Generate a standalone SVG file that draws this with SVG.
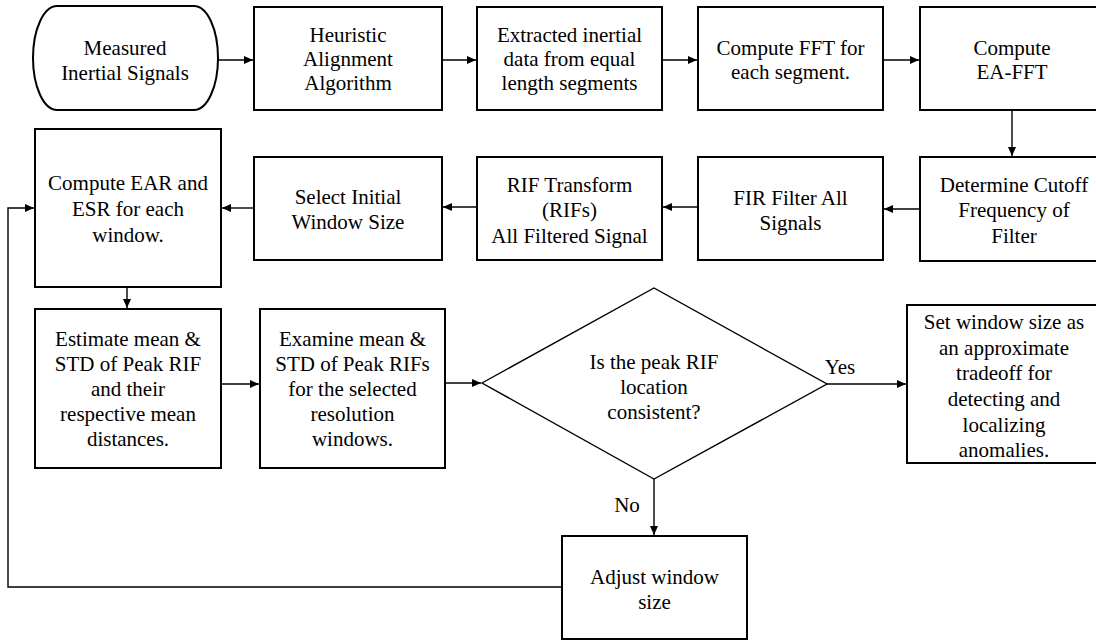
<svg xmlns="http://www.w3.org/2000/svg" width="1096" height="641" viewBox="0 0 1096 641">
<style>
.box{fill:#fff;stroke:#000;stroke-width:2}
.dia{fill:#fff;stroke:#000;stroke-width:1.4}
.conn{fill:none;stroke:#000;stroke-width:1.4}
.arr{marker-end:url(#ah)}
text{font-size:21px;fill:#000;text-anchor:middle}
</style>
<defs>
<marker id="ah" markerUnits="userSpaceOnUse" markerWidth="9" markerHeight="8" refX="9" refY="4" orient="auto">
<path d="M0,0 L9,4 L0,8 z" fill="#000"/>
</marker>
</defs>
<rect width="1096" height="641" fill="#fff"/>
<g id="connectors">
<line class="conn arr" x1="218" y1="60" x2="253" y2="60"/>
<line class="conn arr" x1="442" y1="60" x2="476" y2="60"/>
<line class="conn arr" x1="662" y1="60" x2="697" y2="60"/>
<line class="conn arr" x1="883" y1="60" x2="919" y2="60"/>
<line class="conn arr" x1="1012" y1="110" x2="1012" y2="156"/>
<line class="conn arr" x1="920" y1="209" x2="884" y2="209"/>
<line class="conn arr" x1="698" y1="207" x2="663" y2="207"/>
<line class="conn arr" x1="477" y1="207" x2="443" y2="207"/>
<line class="conn arr" x1="254" y1="208" x2="222" y2="208"/>
<line class="conn arr" x1="127" y1="287" x2="127" y2="308"/>
<line class="conn arr" x1="221" y1="384" x2="259" y2="384"/>
<line class="conn arr" x1="445" y1="383" x2="481" y2="383"/>
<line class="conn arr" x1="827" y1="384" x2="906" y2="384"/>
<line class="conn arr" x1="654" y1="479" x2="654" y2="535"/>
<polyline class="conn arr" points="562,587 8,587 8,208 34,208"/>
</g>
<g font-family="Liberation Serif, Times New Roman, serif">
<g id="n1"><rect class="box" x="33" y="6" width="185" height="104" rx="24" ry="52"/>
<text x="125" y="55">Measured</text><text x="125" y="80">Inertial Signals</text></g>
<g id="n2"><rect class="box" x="254" y="7" width="188" height="103"/>
<text x="348" y="42">Heuristic</text><text x="348" y="66">Alignment</text><text x="348" y="90">Algorithm</text></g>
<g id="n3"><rect class="box" x="477" y="7" width="185" height="103"/>
<text x="569.5" y="42">Extracted inertial</text><text x="569.5" y="66">data from equal</text><text x="569.5" y="90">length segments</text></g>
<g id="n4"><rect class="box" x="698" y="7" width="185" height="103"/>
<text x="790.5" y="55">Compute FFT for</text><text x="790.5" y="79">each segment.</text></g>
<g id="n5"><rect class="box" x="920" y="7" width="184" height="103"/>
<text x="1012" y="55">Compute</text><text x="1012" y="79">EA-FFT</text></g>
<g id="n6"><rect class="box" x="920" y="157" width="184" height="104"/>
<text x="1014" y="192">Determine Cutoff</text><text x="1014" y="217">Frequency  of</text><text x="1014" y="243">Filter</text></g>
<g id="n7"><rect class="box" x="698" y="157" width="185" height="103"/>
<text x="790.5" y="205">FIR Filter All</text><text x="790.5" y="230">Signals</text></g>
<g id="n8"><rect class="box" x="477" y="157" width="185" height="103"/>
<text x="569.5" y="192">RIF Transform</text><text x="569.5" y="217">(RIFs)</text><text x="569.5" y="243">All Filtered Signal</text></g>
<g id="n9"><rect class="box" x="254" y="157" width="188" height="103"/>
<text x="348" y="204">Select Initial</text><text x="348" y="229">Window  Size</text></g>
<g id="n10"><rect class="box" x="35" y="129" width="186" height="158"/>
<text x="128" y="190">Compute EAR and</text><text x="128" y="216">ESR for each</text><text x="128" y="242">window.</text></g>
<g id="n11"><rect class="box" x="35" y="309" width="186" height="159"/>
<text x="128" y="346">Estimate mean &amp;</text><text x="128" y="371">STD of Peak RIF</text><text x="128" y="396">and their</text><text x="128" y="421">respective  mean</text><text x="128" y="446">distances.</text></g>
<g id="n12"><rect class="box" x="260" y="309" width="185" height="159"/>
<text x="352.5" y="346">Examine mean &amp;</text><text x="352.5" y="371">STD of Peak RIFs</text><text x="352.5" y="396">for the selected</text><text x="352.5" y="421">resolution</text><text x="352.5" y="446">windows.</text></g>
<g id="n13"><polygon class="dia" points="482,383 654,288 827,384 654,479"/>
<text x="654" y="369">Is the peak RIF</text><text x="654" y="394">location</text><text x="654" y="419">consistent?</text></g>
<g id="n14"><rect class="box" x="907" y="305" width="194" height="158"/>
<text x="1004" y="329">Set window  size as</text><text x="1004" y="355">an approximate</text><text x="1004" y="380">tradeoff  for</text><text x="1004" y="406">detecting and</text><text x="1004" y="432">localizing</text><text x="1004" y="457">anomalies.</text></g>
<g id="n15"><rect class="box" x="562" y="536" width="185" height="103"/>
<text x="654.5" y="584">Adjust window</text><text x="654.5" y="609">size</text></g>
<g id="labels"><text x="840" y="374">Yes</text><text x="627" y="512">No</text></g>
</g>
</svg>
